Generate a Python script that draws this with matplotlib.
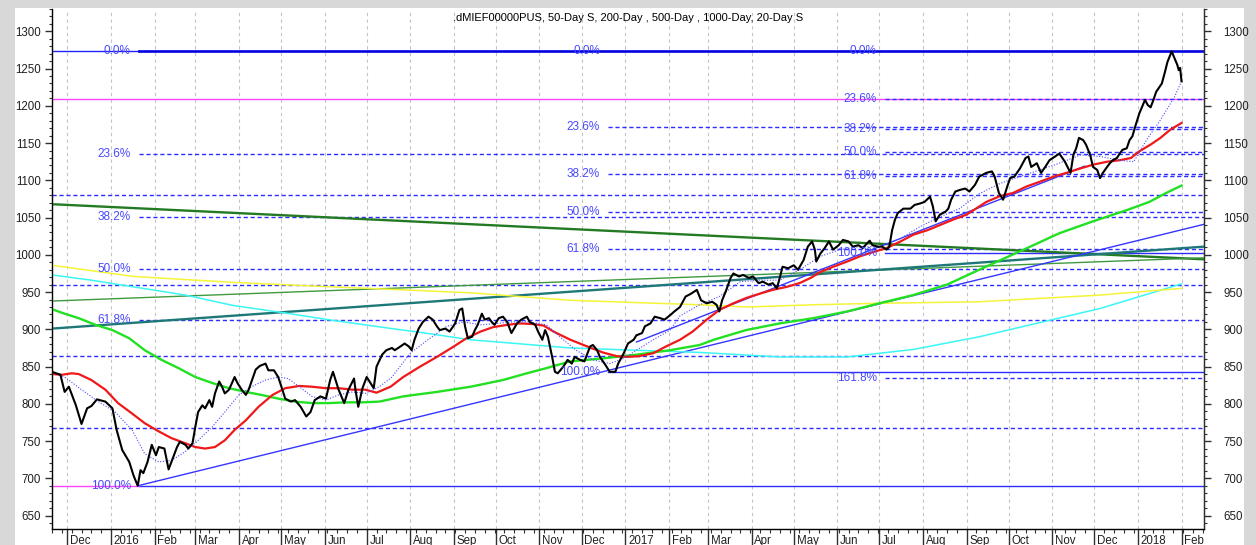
import numpy as np
import pandas as pd
import matplotlib
matplotlib.use("Agg")
import matplotlib.pyplot as plt
from matplotlib.patches import Rectangle
from matplotlib.ticker import MultipleLocator
import matplotlib.dates as mdates

plt.rcParams['font.family'] = ['Liberation Sans', 'DejaVu Sans']

# days counted from 2016-01-01
base = np.datetime64('2016-01-01')

title = ".dMIEF00000PUS, 50-Day S, 200-Day , 500-Day , 1000-Day, 20-Day S"

# index (black)
price_days = [-42, -36, -33, -30, -25, -21, -17, -14, -10, -4, 1, 4, 8, 13, 16, 19, 21, 23, 26, 29,
              32, 34, 38, 41, 44, 47, 49, 53, 55, 58, 60, 62, 65, 67, 70, 72, 74, 77, 79, 81,
              84, 88, 90, 93, 96, 98, 103, 106, 110, 112, 116, 119, 122, 124, 128, 131, 135, 139, 142, 145,
              149, 153, 156, 158, 162, 166, 169, 173, 174, 176, 179, 182, 187, 189, 193, 196, 200, 202, 206, 209,
              212, 214, 216, 219, 222, 226, 229, 232, 234, 238, 241, 245, 248, 250, 252, 254, 257, 259, 261, 264,
              266, 269, 271, 273, 276, 279, 282, 285, 289, 292, 296, 298, 302, 304, 307, 309, 311, 314, 316, 318,
              322, 325, 328, 330, 334, 337, 341, 343, 346, 348, 352, 355, 359, 361, 365, 368, 372, 374, 378, 380,
              384, 387, 391, 394, 398, 401, 405, 409, 413, 417, 420, 424, 428, 431, 433, 435, 438, 441, 443, 447,
              450, 454, 457, 461, 464, 468, 471, 474, 476, 478, 482, 486, 489, 493, 496, 499, 501, 502, 505, 508,
              511, 514, 518, 521, 525, 528, 532, 535, 540, 542, 546, 549, 552, 554, 556, 558, 560, 564, 569, 572,
              576, 579, 583, 585, 587, 590, 594, 596, 598, 601, 604, 608, 611, 615, 618, 623, 627, 629, 632, 635,
              638, 640, 643, 647, 651, 653, 655, 659, 662, 665, 668, 672, 675, 679, 683, 685, 687, 689, 692, 694,
              697, 699, 702, 704, 706, 709, 711, 713, 716, 718, 720, 723, 725, 727, 729, 732, 736, 738, 740, 742,
              744, 748, 750, 752, 755, 757, 759, 760, 761, 762]
price_vals = [843, 839, 816, 823, 798, 773, 794, 797, 806, 803, 794, 765, 738, 722, 704, 690, 711, 707, 722, 745,
              731, 742, 740, 712, 727, 742, 749, 745, 740, 747, 769, 789, 798, 794, 805, 796, 814, 830, 823, 814,
              819, 836, 828, 819, 812, 819, 846, 851, 854, 845, 845, 836, 819, 807, 803, 805, 796, 783, 789, 805,
              810, 807, 832, 843, 819, 801, 819, 834, 819, 796, 821, 836, 821, 850, 866, 872, 875, 872, 877, 881,
              877, 872, 886, 901, 910, 917, 913, 904, 899, 901, 897, 908, 926, 928, 904, 888, 890, 899, 906, 921,
              913, 915, 910, 906, 915, 917, 910, 895, 908, 913, 917, 910, 906, 897, 886, 899, 890, 863, 843, 841,
              850, 859, 854, 863, 859, 857, 877, 879, 872, 863, 852, 843, 843, 854, 868, 881, 886, 892, 895, 904,
              908, 917, 915, 913, 919, 924, 930, 944, 948, 953, 939, 935, 937, 933, 924, 939, 953, 969, 975, 971,
              973, 969, 971, 962, 964, 960, 962, 955, 969, 984, 982, 986, 980, 993, 1011, 1018, 1007, 991, 1002, 1009,
              1018, 1007, 1013, 1020, 1018, 1011, 1013, 1009, 1019, 1013, 1011, 1011, 1007, 1011, 1033, 1047, 1056, 1062, 1062, 1067,
              1069, 1071, 1078, 1065, 1045, 1054, 1058, 1062, 1074, 1085, 1087, 1089, 1085, 1094, 1105, 1110, 1112, 1105, 1083, 1074,
              1092, 1103, 1105, 1116, 1130, 1132, 1118, 1123, 1110, 1118, 1127, 1132, 1136, 1125, 1110, 1134, 1143, 1157, 1154, 1148,
              1134, 1118, 1114, 1103, 1110, 1118, 1123, 1127, 1130, 1136, 1141, 1143, 1154, 1159, 1172, 1190, 1208, 1201, 1198, 1208,
              1219, 1230, 1244, 1259, 1273, 1264, 1255, 1248, 1251, 1233]

# 50-day (red)
ma50_days = [-42, -35, -28, -23, -14, -4, 5, 15, 24, 34, 43, 53, 60, 67, 74, 81, 88, 96, 105, 115,
             124, 134, 143, 153, 162, 172, 181, 189, 199, 208, 220, 232, 244, 253, 263, 272, 282, 291, 301, 308,
             315, 327, 339, 350, 360, 367, 376, 386, 395, 405, 414, 424, 433, 443, 452, 462, 471, 481, 490, 498,
             505, 514, 524, 533, 543, 552, 562, 571, 581, 590, 599, 609, 614, 623, 633, 642, 652, 661, 671, 680,
             690, 699, 709, 718, 726, 732, 740, 747, 754, 762]
ma50_vals = [840, 839, 841, 840, 832, 819, 801, 787, 774, 763, 754, 747, 742, 740, 742, 751, 765, 778, 796, 812,
             821, 824, 823, 821, 821, 819, 819, 815, 823, 836, 850, 863, 877, 888, 897, 903, 906, 908, 907, 905,
             897, 886, 877, 869, 864, 863, 864, 868, 877, 886, 897, 913, 926, 935, 942, 948, 953, 957, 962, 969,
             977, 984, 991, 998, 1004, 1009, 1018, 1027, 1033, 1040, 1047, 1054, 1060, 1071, 1079, 1083, 1092, 1098, 1105, 1110,
             1116, 1121, 1125, 1127, 1130, 1139, 1148, 1157, 1168, 1177]

# 200-day (green)
ma200_days = [-42, -33, -23, -11, 1, 13, 24, 36, 48, 60, 72, 84, 96, 107, 119, 131, 143, 155, 167, 179,
              191, 208, 232, 256, 279, 296, 310, 327, 350, 374, 398, 419, 429, 452, 476, 500, 524, 547, 571, 595,
              618, 652, 675, 699, 723, 739, 751, 762]
ma200_vals = [927, 921, 915, 906, 899, 888, 872, 859, 848, 836, 828, 821, 816, 812, 807, 803, 801, 801, 802, 802,
              803, 810, 816, 823, 832, 841, 848, 857, 861, 866, 872, 879, 886, 899, 908, 915, 924, 935, 946, 960,
              980, 1009, 1029, 1045, 1060, 1071, 1083, 1093]

# 500-day (yellow)
ma500_days = [-42, 16, 87, 158, 220, 256, 327, 419, 453, 500, 547, 618, 704, 762]
ma500_vals = [986, 971, 963, 957, 952, 949, 939, 933, 930, 933, 935, 937, 946, 955]

# 1000-day (cyan)
ma1000_days = [-42, -14, 16, 53, 87, 124, 158, 200, 220, 256, 327, 419, 476, 524, 571, 618, 704, 762]
ma1000_vals = [973, 966, 957, 946, 932, 922, 912, 901, 896, 886, 875, 869, 863, 863, 873, 890, 928, 961]

# 20-day (blue dotted)
ma20_days = [-42, -33, -21, -9, 3, 15, 24, 34, 43, 53, 62, 72, 81, 91, 100, 110, 119, 126, 134, 143,
             153, 162, 172, 181, 191, 200, 213, 227, 239, 251, 263, 275, 286, 298, 310, 322, 331, 343, 355, 365,
             374, 386, 398, 405, 419, 433, 448, 462, 476, 490, 505, 519, 533, 547, 562, 576, 590, 604, 618, 633,
             647, 661, 675, 690, 704, 718, 728, 737, 747, 757, 762]
ma20_vals = [843, 836, 819, 803, 789, 765, 733, 722, 724, 736, 751, 769, 789, 812, 823, 832, 836, 834, 823, 810,
             805, 812, 816, 814, 823, 836, 868, 888, 904, 910, 906, 908, 910, 910, 906, 886, 872, 859, 854, 861,
             872, 886, 899, 918, 933, 944, 964, 966, 966, 980, 998, 1007, 1011, 1011, 1022, 1038, 1051, 1062, 1082, 1096,
             1105, 1114, 1123, 1134, 1132, 1127, 1125, 1154, 1181, 1212, 1233]

# drawn trend lines: (day, value) at both ends
trend_lines = [
    ((-42, 1068), (778, 994), '#237a23', 1.7),
    ((-42, 938), (778, 996), '#3f9a3f', 1.0),
    ((-42, 901), (778, 1011), '#1f7878', 1.7),
    ((19, 690), (778, 1041), '#3535ff', 1.0),
    ((374, 883), (693, 1119), '#3535ff', 1.0),
]

# fibonacci retracements: start day, high, low, ratios
fib_sets = [
    (20, 1273, 690, [0.0, 0.236, 0.382, 0.5, 0.618, 1.0]),
    (354, 1273, 843, [0.0, 0.236, 0.382, 0.5, 0.618, 1.0]),
    (551, 1273, 1002, [0.0, 0.236, 0.382, 0.5, 0.618, 1.0, 1.618]),
]
extra_levels = [1080, 960, 864, 768]
magenta_level = 1209

x_left, x_right = -42, 778


def d(days):
    return base + np.array(days).astype('timedelta64[D]')


fig = plt.figure(figsize=(12.56, 5.45), dpi=100)
fig.patch.set_facecolor('#d8d8d8')
fig.add_artist(Rectangle((15 / 1256, 0), 1229 / 1256, 537 / 545, transform=fig.transFigure,
                         facecolor='white', edgecolor='none', zorder=-10))
ax = fig.add_axes([52 / 1256, 16 / 545, 1152 / 1256, 520 / 545])

xl, xr = d(x_left), d(x_right)
ax.set_xlim(xl, xr)
ax.set_ylim(632, 1330)

fib_blue = '#2d2dff'
lab_blue = '#4848ff'
dash = (0, (3, 2))

# horizontal helper lines
for lv in extra_levels:
    ax.plot([xl, xr], [lv, lv], color=fib_blue, lw=1, ls=dash, zorder=2)
ax.plot([xl, xr], [magenta_level, magenta_level], color='#ff44ff', lw=1, zorder=2)

for k, (start, hi, lo, ratios) in enumerate(fib_sets):
    s = d(start)
    for r in ratios:
        lv = hi - r * (hi - lo)
        if r == 0.0:
            if k == 0:
                ax.plot([xl, s], [lv, lv], color='#2020ff', lw=1, zorder=2)
                ax.plot([s, xr], [lv, lv], color='#0000e0', lw=1.9, zorder=2)
        elif r == 1.0:
            ax.plot([s, xr], [lv, lv], color=fib_blue, lw=1, zorder=2)
            if k == 0:
                ax.plot([xl, s], [lv, lv], color='#ff44ff', lw=1, zorder=2)
        else:
            ax.plot([s, xr], [lv, lv], color=fib_blue, lw=1, ls=dash, zorder=2)
        ax.annotate(f"{r * 100:.1f}%", xy=(s, lv), xytext=(-6, 0), textcoords='offset points',
                    ha='right', va='center', fontsize=8.5, color=lab_blue, zorder=6)

for (d0, v0), (d1, v1), c, w in trend_lines:
    ax.plot([d(d0), d(d1)], [v0, v1], color=c, lw=w, zorder=3)

ax.plot(d(ma1000_days), ma1000_vals, color='#3cf6f6', lw=1.1, zorder=3)
ax.plot(d(ma500_days), ma500_vals, color='#f4f438', lw=1.1, zorder=3)
ax.plot(d(ma200_days), ma200_vals, color='#22e022', lw=1.7, zorder=4)
ax.plot(d(ma50_days), ma50_vals, color='#f01818', lw=1.6, zorder=4)
ax.plot(d(ma20_days), ma20_vals, color='#4a4aff', lw=0.8, ls=(0, (1, 1.5)), zorder=4)
ax.plot(d(price_days), price_vals, color='black', lw=1.5, zorder=5)

ax.text(0.5, 0.983, title, transform=ax.transAxes, ha='center', va='center', fontsize=8)

# axes styling
ax.spines['top'].set_visible(False)
for sp in ['left', 'right', 'bottom']:
    ax.spines[sp].set_color('#303030')
    ax.spines[sp].set_linewidth(1)

# left scale
ax.yaxis.set_major_locator(MultipleLocator(50))
ax.yaxis.set_minor_locator(MultipleLocator(10))
ax.tick_params(axis='y', which='both', direction='out', colors='#303030',
               labelcolor='#202020', labelsize=8.3)
ax.tick_params(axis='y', which='major', length=5, width=1, pad=3)
ax.tick_params(axis='y', which='minor', length=2.5, width=0.8)

# right scale, a bit further from the axis
ax2 = ax.twinx()
ax2.set_ylim(ax.get_ylim())
ax2.spines['top'].set_visible(False)
ax2.spines['right'].set_color('#303030')
ax2.yaxis.set_major_locator(MultipleLocator(50))
ax2.yaxis.set_minor_locator(MultipleLocator(10))
ax2.tick_params(axis='y', which='both', direction='out', colors='#303030',
                labelcolor='#202020', labelsize=8.3)
ax2.tick_params(axis='y', which='major', length=5, width=1, pad=9)
ax2.tick_params(axis='y', which='minor', length=2.5, width=0.8)

ax.xaxis.set_major_locator(mdates.MonthLocator())
ax.xaxis.set_minor_locator(mdates.WeekdayLocator(byweekday=mdates.FR))
ax.tick_params(axis='x', which='major', length=14, width=1, labelbottom=False, colors='#303030')
ax.tick_params(axis='x', which='minor', length=3, width=0.8, colors='#303030')

ax.grid(axis='x', which='major', color='#c4c4c4', ls=(0, (3, 3)), lw=0.8)

months = pd.date_range('2015-12-01', '2018-02-01', freq='MS')
for m in months:
    lab = str(m.year) if m.month == 1 else m.strftime('%b')
    ax.annotate(lab, xy=(np.datetime64(m.date()), 0), xycoords=('data', 'axes fraction'),
                xytext=(2, -4.5), textcoords='offset points', ha='left', va='top',
                fontsize=8.3, color='#202020', annotation_clip=False)

fig.savefig('out.png', dpi=100, facecolor=fig.get_facecolor())
